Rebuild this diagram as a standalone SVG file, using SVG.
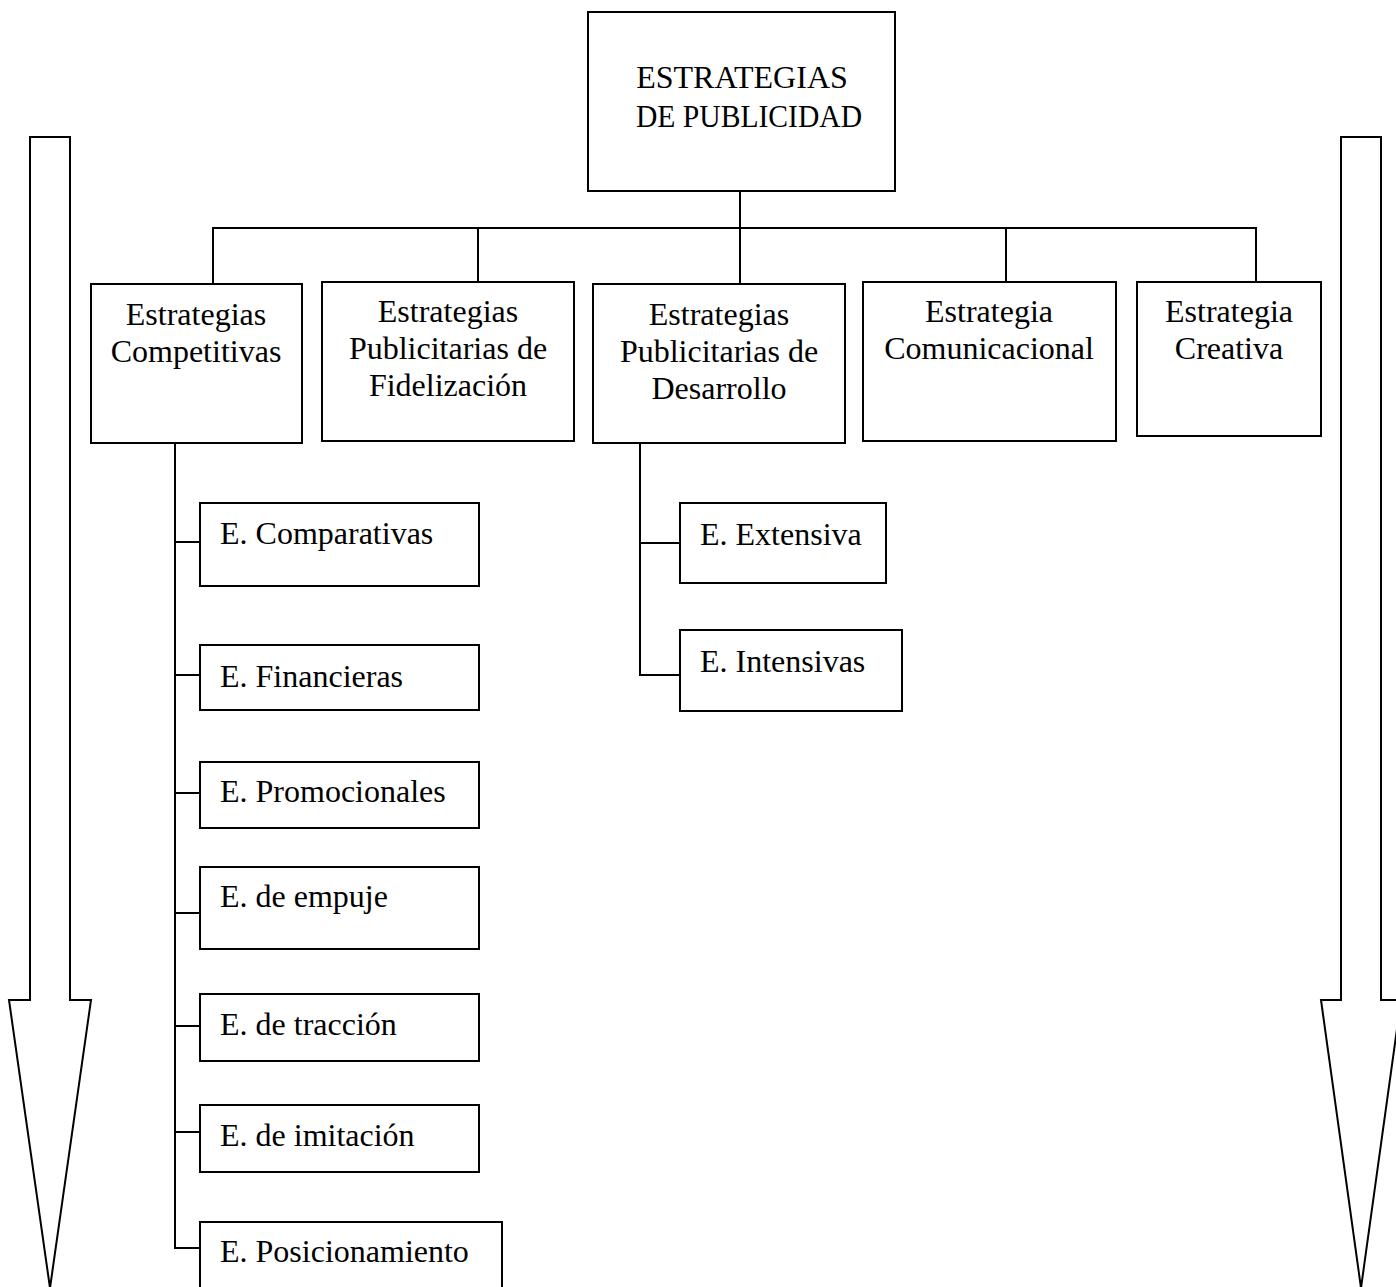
<svg xmlns="http://www.w3.org/2000/svg" width="1396" height="1287" viewBox="0 0 1396 1287">
  <style>
    .box { fill: #ffffff; stroke: #000000; stroke-width: 2; }
    .wire { fill: none; stroke: #000000; stroke-width: 2; }
    .arrow { fill: #ffffff; stroke: #000000; stroke-width: 2; stroke-linejoin: miter; }
    text { font-family: "Liberation Serif", "Times New Roman", serif; font-size: 32px; fill: #000000; }
    .c { text-anchor: middle; }
  </style>

  <rect width="1396" height="1287" fill="#ffffff"/>

  <!-- Side arrows pointing down -->
  <g id="arrow-left">
    <polygon class="arrow" points="30,137 70,137 70,1000 91,1000 50,1288 9,1000 30,1000"/>
  </g>
  <g id="arrow-right">
    <polygon class="arrow" points="1341,137 1381,137 1381,1000 1401,1000 1361,1288 1321,1000 1341,1000"/>
  </g>

  <!-- Tree connectors -->
  <g id="connectors">
    <line class="wire" x1="740" y1="191" x2="740" y2="284"/>
    <line class="wire" x1="212" y1="228" x2="1257" y2="228"/>
    <line class="wire" x1="213" y1="227" x2="213" y2="284"/>
    <line class="wire" x1="478" y1="227" x2="478" y2="282"/>
    <line class="wire" x1="1006" y1="227" x2="1006" y2="282"/>
    <line class="wire" x1="1256" y1="227" x2="1256" y2="282"/>

    <!-- Competitivas branch -->
    <polyline class="wire" points="175,443 175,1248 200,1248"/>
    <line class="wire" x1="175" y1="542" x2="200" y2="542"/>
    <line class="wire" x1="175" y1="675" x2="200" y2="675"/>
    <line class="wire" x1="175" y1="793" x2="200" y2="793"/>
    <line class="wire" x1="175" y1="913" x2="200" y2="913"/>
    <line class="wire" x1="175" y1="1026" x2="200" y2="1026"/>
    <line class="wire" x1="175" y1="1132" x2="200" y2="1132"/>

    <!-- Desarrollo branch -->
    <polyline class="wire" points="640,443 640,675 680,675"/>
    <line class="wire" x1="640" y1="543" x2="680" y2="543"/>
  </g>

  <!-- Root -->
  <g id="root">
    <rect class="box" x="588" y="12" width="307" height="179"/>
    <text class="c" x="742" y="88">ESTRATEGIAS</text>
    <text class="c" x="749" y="127" textLength="226" lengthAdjust="spacingAndGlyphs">DE PUBLICIDAD</text>
  </g>

  <!-- First level -->
  <g id="competitivas">
    <rect class="box" x="91" y="284" width="211" height="159"/>
    <text class="c" x="196" y="325">Estrategias</text>
    <text class="c" x="196" y="362">Competitivas</text>
  </g>
  <g id="fidelizacion">
    <rect class="box" x="322" y="282" width="252" height="159"/>
    <text class="c" x="448" y="322">Estrategias</text>
    <text class="c" x="448" y="359">Publicitarias de</text>
    <text class="c" x="448" y="396">Fidelización</text>
  </g>
  <g id="desarrollo">
    <rect class="box" x="593" y="284" width="252" height="159"/>
    <text class="c" x="719" y="325">Estrategias</text>
    <text class="c" x="719" y="362">Publicitarias de</text>
    <text class="c" x="719" y="399">Desarrollo</text>
  </g>
  <g id="comunicacional">
    <rect class="box" x="863" y="282" width="253" height="159"/>
    <text class="c" x="989" y="322">Estrategia</text>
    <text class="c" x="989" y="359">Comunicacional</text>
  </g>
  <g id="creativa">
    <rect class="box" x="1137" y="282" width="184" height="154"/>
    <text class="c" x="1229" y="322">Estrategia</text>
    <text class="c" x="1229" y="359">Creativa</text>
  </g>

  <!-- Competitivas children -->
  <g id="comparativas">
    <rect class="box" x="200" y="503" width="279" height="83"/>
    <text x="220" y="544">E. Comparativas</text>
  </g>
  <g id="financieras">
    <rect class="box" x="200" y="645" width="279" height="65"/>
    <text x="220" y="687">E. Financieras</text>
  </g>
  <g id="promocionales">
    <rect class="box" x="200" y="762" width="279" height="66"/>
    <text x="220" y="802">E. Promocionales</text>
  </g>
  <g id="empuje">
    <rect class="box" x="200" y="867" width="279" height="82"/>
    <text x="220" y="907">E. de empuje</text>
  </g>
  <g id="traccion">
    <rect class="box" x="200" y="994" width="279" height="67"/>
    <text x="220" y="1035">E. de tracción</text>
  </g>
  <g id="imitacion">
    <rect class="box" x="200" y="1105" width="279" height="67"/>
    <text x="220" y="1146">E. de imitación</text>
  </g>
  <g id="posicionamiento">
    <rect class="box" x="200" y="1222" width="302" height="80"/>
    <text x="220" y="1262">E. Posicionamiento</text>
  </g>

  <!-- Desarrollo children -->
  <g id="extensiva">
    <rect class="box" x="680" y="503" width="206" height="80"/>
    <text x="700" y="545">E. Extensiva</text>
  </g>
  <g id="intensivas">
    <rect class="box" x="680" y="630" width="222" height="81"/>
    <text x="700" y="672">E. Intensivas</text>
  </g>
</svg>
